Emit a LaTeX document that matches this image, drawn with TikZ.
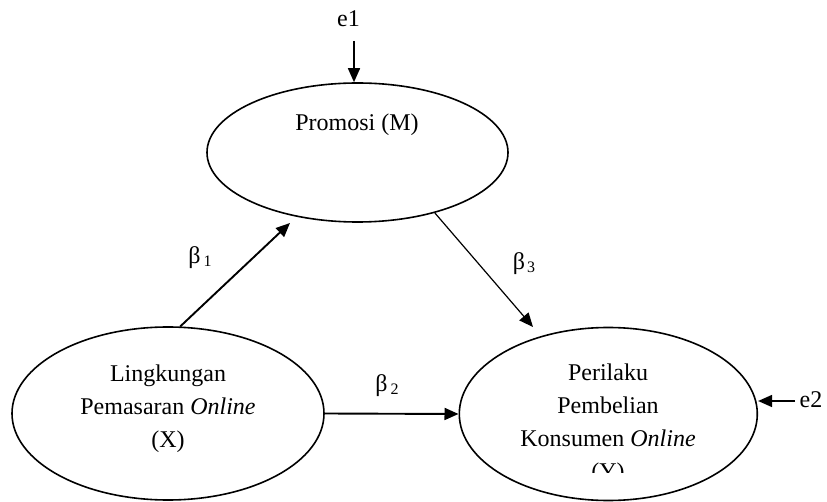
\documentclass[tikz,border=0pt]{standalone}
\usepackage{fontspec}
\setmainfont{Liberation Serif}
\usetikzlibrary{shapes.geometric,arrows.meta}
\begin{document}
\begin{tikzpicture}[x=1pt,y=-1pt,
  ell/.style={draw,ellipse,line width=1.6pt,inner sep=0pt},
  txt/.style={align=center,inner sep=0pt,font=\fontsize{24}{33}\selectfont},
  arr/.style={-{Triangle[length=14pt,width=12pt]},line width=1.9pt},
  thinarr/.style={-{Triangle[length=14pt,width=12pt]},line width=1.2pt},
  beta/.style={inner sep=0pt,font=\fontsize{24}{28}\selectfont}]
\useasboundingbox (0,0) rectangle (827,502);
% ellipses
\node[ell,minimum width=301pt,minimum height=139pt] (M) at (357.5,152.5) {};
\node[ell,minimum width=312pt,minimum height=173pt] (X) at (168,413.5) {};
\node[ell,minimum width=298pt,minimum height=173pt] (Y) at (608.3,414) {};
% texts
\node[txt] (Mt) at (357,125) {Promosi (M)};
\node[txt] (Xt) at (168,409) {Lingkungan\\Pemasaran \textit{Online}\\(X)};
\begin{scope}
\clip (400,340) rectangle (820,472);
\node[txt] (Yt) at (608,424) {Perilaku\\Pembelian\\Konsumen \textit{Online}\\(Y)};
\end{scope}
% error terms
\node[txt] (e1) at (348.5,19) {e1};
\node[txt] (e2) at (811,400) {e2};
\coordinate (e1a) at (354,41);
\coordinate (e2a) at (795,401);
\draw[arr,line width=1.6pt] (e1a) -- (e1a |- M.north);
\draw[arr,line width=1.6pt] (e2a) -- (e2a -| Y.east);
% paths
\coordinate (b1e) at (290,223);
\coordinate (b3e) at (533,327);
\draw[arr] (X.82.1) -- (b1e);
\draw[thinarr] (M.-38.2) -- (b3e);
\draw[arr] (X.east) -- (Y.west);
% beta labels
\node[beta] (b1) at (200,258) {β\hspace{3pt}\raisebox{-3pt}{\fontsize{16}{16}\selectfont 1}};
\node[beta] (b3) at (524,264) {β\hspace{2pt}\raisebox{-3pt}{\fontsize{16}{16}\selectfont 3}};
\node[beta] (b2) at (387,386) {β\hspace{3pt}\raisebox{-3pt}{\fontsize{16}{16}\selectfont 2}};
\end{tikzpicture}
\end{document}
